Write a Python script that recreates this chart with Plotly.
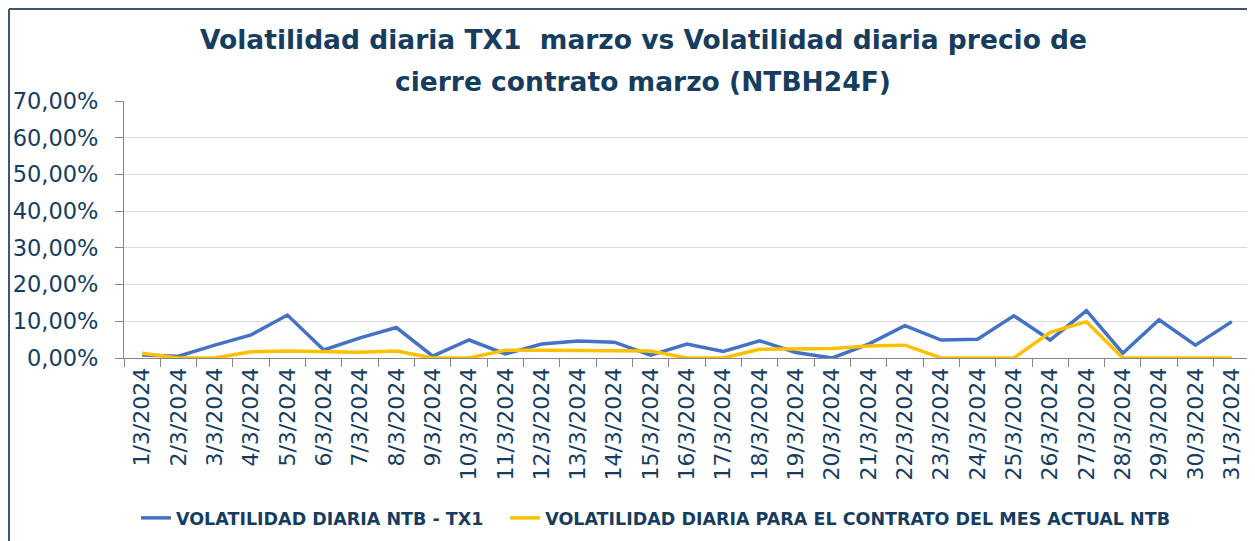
"""
Volatilidad diaria TX1 marzo vs contrato marzo (NTBH24F)
"""

import plotly.graph_objects as go

# fechas del mes (eje x)
fechas = [f"{d}/3/2024" for d in range(1, 32)]

# volatilidad diaria NTB - TX1 (en fracción)
vol_tx1 = [
    0.008, 0.005, 0.035, 0.063, 0.117, 0.022, 0.055, 0.083, 0.005, 0.049,
    0.011, 0.038, 0.046, 0.043, 0.008, 0.038, 0.018, 0.047, 0.015, 0.000,
    0.038, 0.088, 0.049, 0.051, 0.115, 0.049, 0.129, 0.013, 0.104, 0.035,
    0.099,
]

# volatilidad diaria para el contrato del mes actual NTB
vol_contrato = [
    0.013, 0.000, 0.000, 0.017, 0.019, 0.017, 0.016, 0.019, 0.000, 0.000,
    0.021, 0.021, 0.021, 0.021, 0.019, 0.000, 0.000, 0.024, 0.025, 0.026,
    0.033, 0.035, 0.000, 0.000, 0.000, 0.070, 0.099, 0.000, 0.000, 0.000,
    0.000,
]

y_ticks = [0, 0.1, 0.2, 0.3, 0.4, 0.5, 0.6, 0.7]

titulo = [
    "Volatilidad diaria TX1  marzo vs Volatilidad diaria precio de",
    "cierre contrato marzo (NTBH24F)",
]

TEXT = "#173D5E"     # azul oscuro de textos
FONT = "DejaVu Sans"

fig = go.Figure()

fig.add_trace(
    go.Scatter(
        x=fechas,
        y=vol_tx1,
        mode="lines",
        name="<b>VOLATILIDAD DIARIA NTB - TX1</b>   ",
        line=dict(color="#4472C4", width=3.5),
    )
)
fig.add_trace(
    go.Scatter(
        x=fechas,
        y=vol_contrato,
        mode="lines",
        name="<b>VOLATILIDAD DIARIA PARA EL CONTRATO DEL MES ACTUAL NTB</b>",
        line=dict(color="#FFC000", width=3.5),
    )
)

# la página deja 8 px de margen al cuerpo: todo se mide restando ese desfase
OFF = 8
W, H = 1255 - OFF, 541 - OFF
plot_l, plot_t, plot_b = 124 - OFF, 101 - OFF, 358 - OFF
plot_w, plot_h = W - plot_l, plot_b - plot_t

# marco del gráfico (borde superior e izquierdo)
fx = (1 - plot_l) / plot_w
fy = (plot_b - 1) / plot_h
fig.add_shape(type="line", xref="paper", yref="paper",
              x0=fx, x1=1.2, y0=fy, y1=fy,
              line=dict(color="#44546A", width=2))
fig.add_shape(type="line", xref="paper", yref="paper",
              x0=fx, x1=fx, y0=fy, y1=-1.0,
              line=dict(color="#44546A", width=2))

# título en dos líneas
for linea, ypix in zip(titulo, [40, 81]):
    fig.add_annotation(
        text=f"<b>{linea}</b>",
        xref="paper", yref="paper",
        x=(643 - OFF - plot_l) / plot_w, y=(plot_b - (ypix - OFF)) / plot_h,
        xanchor="center", yanchor="middle",
        showarrow=False,
        font=dict(family=FONT, size=26.5, color=TEXT),
    )

fig.update_layout(
    width=W,
    height=H,
    margin=dict(l=plot_l, r=0, t=plot_t, b=H - plot_b),
    paper_bgcolor="#FFFFFF",
    plot_bgcolor="#FFFFFF",
    separators=",.",
    font=dict(family=FONT, color=TEXT),
    xaxis=dict(
        type="category",
        automargin=False,
        range=[-0.5, 30.64],
        tickson="boundaries",
        ticks="outside",
        ticklen=8,
        tickcolor="#868686",
        showline=True,
        linecolor="#868686",
        linewidth=1,
        showgrid=False,
        tickangle=-90,
        tickfont=dict(family=FONT, size=22, color=TEXT),
    ),
    yaxis=dict(
        automargin=False,
        range=[0, 0.7],
        tickvals=y_ticks,
        tickformat=".2%",
        ticks="outside",
        ticklen=8,
        tickcolor="#868686",
        ticklabelstandoff=12,
        showline=True,
        linecolor="#868686",
        linewidth=1,
        showgrid=True,
        gridcolor="#D9D9D9",
        gridwidth=1,
        zeroline=False,
        tickfont=dict(family=FONT, size=22.5, color=TEXT),
    ),
    showlegend=True,
    legend=dict(
        orientation="h",
        x=(656 - OFF - plot_l) / plot_w,
        xanchor="center",
        y=(plot_b - (518 - OFF)) / plot_h,
        yanchor="middle",
        font=dict(family=FONT, size=17.5, color=TEXT),
    ),
)

fig.write_html("out.html")
